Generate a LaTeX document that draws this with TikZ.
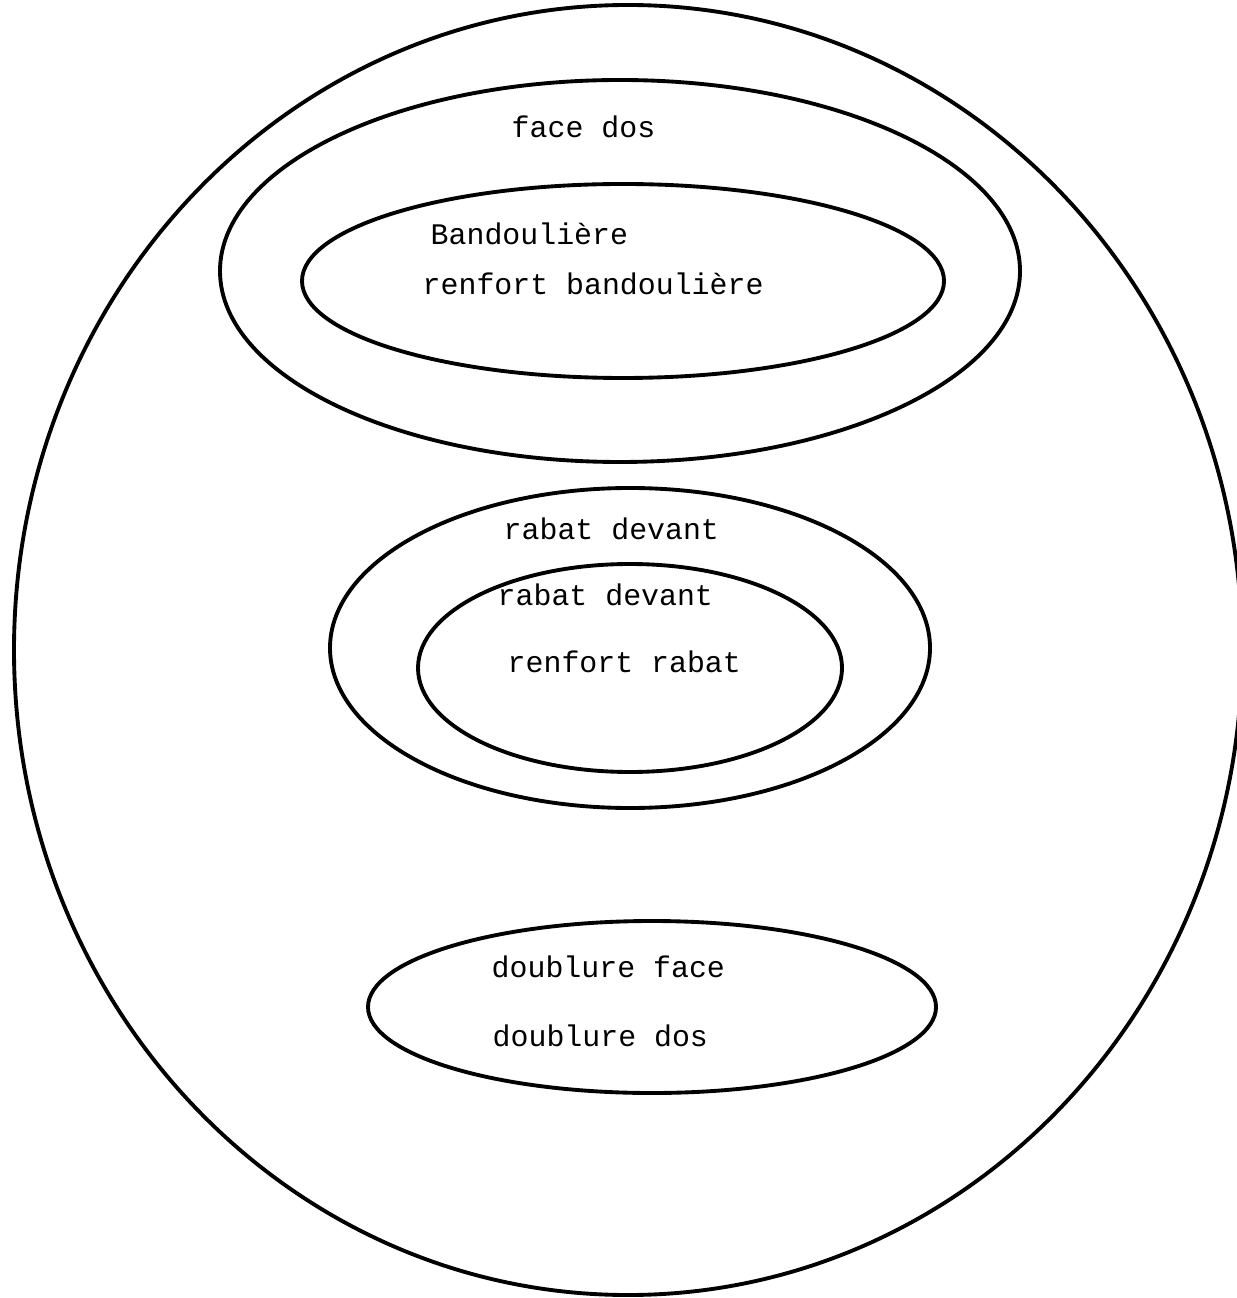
\documentclass[tikz,border=0pt]{standalone}
\usepackage{fontspec}
\setmonofont{Liberation Mono}

\begin{document}
\begin{tikzpicture}[x=0.01cm,y=-0.01cm,
    contour/.style={line width=1.1pt},
    piece/.style={font=\ttfamily\fontsize{8.5}{10}\selectfont,inner sep=0pt,anchor=base west}]
      \useasboundingbox (0,0) rectangle (1236,1298);

      % ensembles
      \draw[contour] (628,650) ellipse (614 and 645);
      \draw[contour] (620,271) ellipse (400 and 191);
      \draw[contour] (623,281) ellipse (321 and 97);
      \draw[contour] (630,648) ellipse (300 and 160);
      \draw[contour] (630,668) ellipse (212 and 104);
      \draw[contour] (652,1007) ellipse (284 and 86);

      % pieces
      \node[piece] (0) at (-21,102) {e};
      \node[piece] (1) at (511,138) {face dos};
      \node[piece] (2) at (430,245) {Bandoulière};
      \node[piece] (3) at (422,295) {renfort bandoulière};
      \node[piece] (4) at (503,540) {rabat devant};
      \node[piece] (5) at (497,605) {rabat devant};
      \node[piece] (6) at (507,672) {renfort rabat};
      \node[piece] (7) at (491,977) {doublure face};
      \node[piece] (8) at (492,1046) {doublure dos};
    \end{tikzpicture}
\end{document}
